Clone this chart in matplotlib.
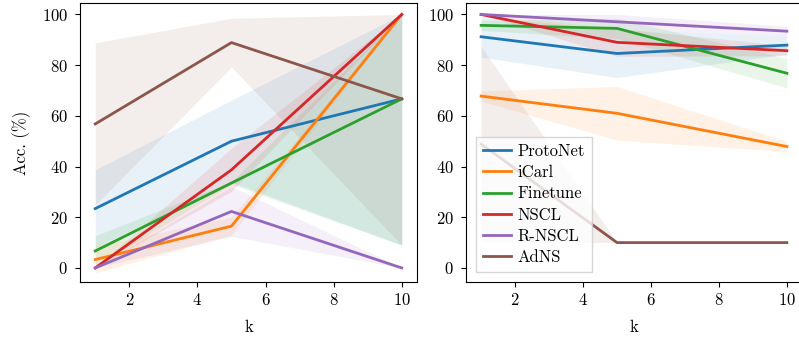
import numpy as np
import matplotlib
matplotlib.use("Agg")
import matplotlib.pyplot as plt

plt.rcParams['font.family'] = ['cmr10', 'DejaVu Serif']
plt.rcParams['axes.formatter.use_mathtext'] = True
plt.rcParams['font.size'] = 12
plt.rcParams['ytick.major.pad'] = 5

k = [1, 5, 10]
methods = ['ProtoNet', 'iCarl', 'Finetune', 'NSCL', 'R-NSCL', 'AdNS']
colors = ['#1f77b4', '#ff7f0e', '#2ca02c', '#d62728', '#9467bd', '#8c564b']

# left panel: mean and std per method at k = 1, 5, 10
left_mean = {
    'ProtoNet': [23.4, 50.0, 66.7],
    'iCarl':    [3.3, 16.5, 100.0],
    'Finetune': [6.7, 33.5, 66.7],
    'NSCL':     [0.0, 38.7, 100.0],
    'R-NSCL':   [0.0, 22.3, 0.0],
    'AdNS':     [56.8, 88.9, 66.7],
}
left_std = {
    'ProtoNet': [15.3, 16.2, 57.7],
    'iCarl':    [5.3, 3.5, 0.0],
    'Finetune': [6.0, 0.5, 57.7],
    'NSCL':     [0.0, 8.5, 0.0],
    'R-NSCL':   [0.0, 9.8, 0.0],
    'AdNS':     [32.0, 9.6, 57.7],
}

# right panel
right_mean = {
    'ProtoNet': [91.2, 84.6, 87.9],
    'iCarl':    [67.8, 61.0, 47.9],
    'Finetune': [95.7, 94.5, 76.8],
    'NSCL':     [100.0, 89.0, 85.7],
    'R-NSCL':   [100.0, 97.1, 93.4],
    'AdNS':     [48.9, 10.0, 10.0],
}
right_std = {
    'ProtoNet': [8.0, 9.5, 3.5],
    'iCarl':    [2.0, 10.6, 2.0],
    'Finetune': [2.0, 4.0, 5.8],
    'NSCL':     [0.0, 5.5, 2.0],
    'R-NSCL':   [0.0, 3.0, 2.0],
    'AdNS':     [38.5, 0.0, 0.0],
}


def draw(ax, means, stds):
    for m, c in zip(methods, colors):
        mu = np.array(means[m])
        sd = np.array(stds[m])
        lo = mu - sd
        hi = np.minimum(mu + sd, 100)
        ax.fill_between(k, lo, hi, color=c, alpha=0.1, linewidth=0)
        ax.plot(k, mu, color=c, lw=2, label=m)
    ax.set_ylim(-5.5, 104.5)
    ax.set_xlim(0.55, 10.45)
    ax.set_yticks([0, 20, 40, 60, 80, 100])
    ax.set_xticks([2, 4, 6, 8, 10])
    ax.set_xlabel('k', labelpad=9)


fig = plt.figure(figsize=(7.99, 3.38), dpi=100)
ax1 = fig.add_axes([0.100, 0.166, 0.422, 0.825])
ax2 = fig.add_axes([0.583, 0.166, 0.421, 0.825])

draw(ax1, left_mean, left_std)
ax1.set_ylabel('Acc. (%)', labelpad=8)
draw(ax2, right_mean, right_std)
ax2.legend(loc='lower left', fontsize=12, handlelength=1.7, handletextpad=0.4,
           labelspacing=0.35, borderpad=0.4, borderaxespad=0.62,
           fancybox=False, framealpha=0.8)

fig.savefig('out.png', dpi=100)
